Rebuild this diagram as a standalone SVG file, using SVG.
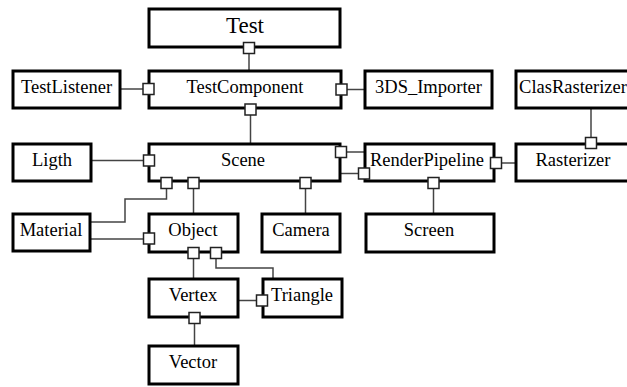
<svg xmlns="http://www.w3.org/2000/svg" width="627" height="387" viewBox="0 0 627 387">
<style>
.box{fill:#fff;stroke:#000;stroke-width:3}
.port{fill:#fff;stroke:#222;stroke-width:1.5}
.con{fill:none;stroke:#444;stroke-width:1.5}
text{font-family:'Liberation Serif','DejaVu Serif','Times New Roman',Times,serif;font-size:18.5px;text-anchor:middle;fill:#000}
</style>
<rect width="627" height="387" fill="#fff"/>
<g id="connectors" class="con">
<path d="M249 54V70"/>
<path d="M121 89H143"/>
<path d="M250.5 115V143"/>
<path d="M347 89.5H364"/>
<path d="M92 160.5H143"/>
<path d="M347 152H364"/>
<path d="M341 173.5H358"/>
<path d="M502 163H515"/>
<path d="M591 109V137"/>
<path d="M433.5 189V213"/>
<path d="M305.5 189V213"/>
<path d="M193.5 189V213"/>
<path d="M91 222H125V199H166.5V189"/>
<path d="M91 239H143"/>
<path d="M193.5 259V278"/>
<path d="M216 259V268H273V278"/>
<path d="M239 300.5H256"/>
<path d="M194.5 324V345"/>
</g>
<g id="Test"><rect class="box" x="149" y="9" width="191" height="38"/><text x="245" y="33" style="font-size:23px">Test</text><rect class="port" x="243.5" y="42.5" width="11" height="11"/></g>
<g id="TestComponent"><rect class="box" x="149" y="71" width="192" height="37"/><text x="245" y="93">TestComponent</text>
<rect class="port" x="143" y="83.5" width="11" height="11"/><rect class="port" x="245" y="104" width="11" height="11"/><rect class="port" x="336" y="84" width="11" height="11"/></g>
<g id="TestListener"><rect class="box" x="13" y="71" width="107" height="37"/><text x="66.5" y="93">TestListener</text></g>
<g id="3DS_Importer"><rect class="box" x="365" y="71" width="127" height="37"/><text x="428.5" y="93">3DS_Importer</text></g>
<g id="ClasRasterizer"><rect class="box" x="516" y="71" width="120" height="37"/><text x="573" y="93">ClasRasterizer</text></g>
<g id="Ligth"><rect class="box" x="13" y="144" width="78" height="37"/><text x="52" y="166">Ligth</text></g>
<g id="Scene"><rect class="box" x="149" y="144" width="191" height="37"/><text x="243" y="166">Scene</text>
<rect class="port" x="143.5" y="155" width="11" height="11"/><rect class="port" x="161" y="177.5" width="11" height="11"/><rect class="port" x="188" y="177.5" width="11" height="11"/><rect class="port" x="300" y="177.5" width="11" height="11"/><rect class="port" x="335.5" y="146.5" width="11" height="11"/></g>
<g id="RenderPipeline"><rect class="box" x="365" y="144" width="129" height="37"/><text x="427" y="166">RenderPipeline</text>
<rect class="port" x="358.5" y="168" width="11" height="11"/><rect class="port" x="490.5" y="157.5" width="11" height="11"/><rect class="port" x="428" y="177.5" width="11" height="11"/></g>
<g id="Rasterizer"><rect class="box" x="516" y="144" width="120" height="37"/><text x="573" y="166">Rasterizer</text><rect class="port" x="585.5" y="137.5" width="11" height="11"/></g>
<g id="Material"><rect class="box" x="13" y="214" width="77" height="37"/><text x="51" y="236">Material</text></g>
<g id="Object"><rect class="box" x="149" y="214" width="89" height="38"/><text x="193" y="236">Object</text>
<rect class="port" x="143.5" y="233" width="11" height="11"/><rect class="port" x="188" y="247.5" width="11" height="11"/><rect class="port" x="210.5" y="247.5" width="11" height="11"/></g>
<g id="Camera"><rect class="box" x="262" y="214" width="78" height="38"/><text x="301" y="236">Camera</text></g>
<g id="Screen"><rect class="box" x="366" y="214" width="128" height="38"/><text x="429" y="236">Screen</text></g>
<g id="Vertex"><rect class="box" x="149" y="279" width="89" height="38"/><text x="193" y="301">Vertex</text><rect class="port" x="189" y="312.5" width="11" height="11"/></g>
<g id="Triangle"><rect class="box" x="263" y="279" width="79" height="38"/><text x="302" y="301">Triangle</text><rect class="port" x="256.5" y="295" width="11" height="11"/></g>
<g id="Vector"><rect class="box" x="149" y="346" width="89" height="38"/><text x="193" y="368">Vector</text></g>
</svg>
